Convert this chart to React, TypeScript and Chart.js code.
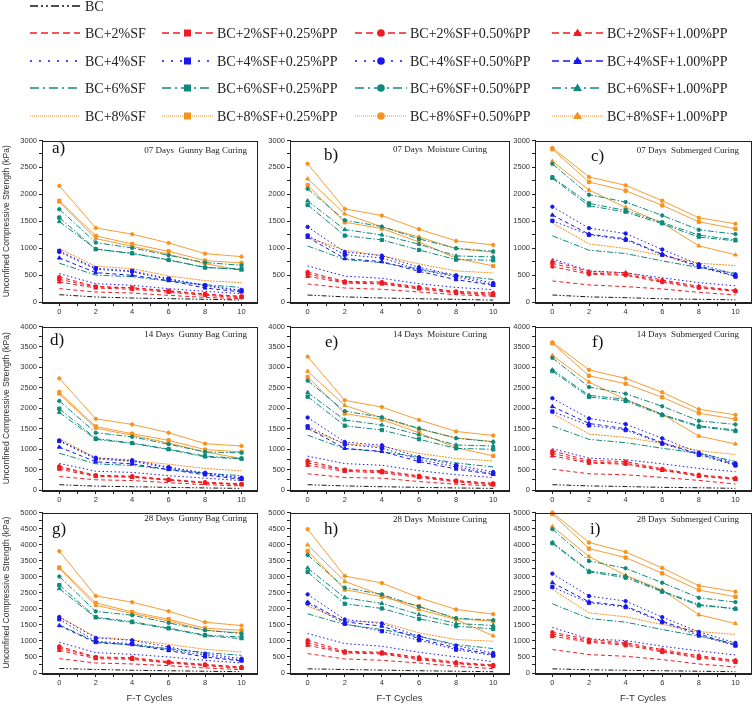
import React, { useEffect, useRef } from 'react';
import { Chart, registerables } from 'chart.js';
Chart.register(...registerables);

// ---------------- data ----------------
const ftCycles = [0, 2, 4, 6, 8, 10];

const seriesNames = [
  'BC',
  'BC+2%SF', 'BC+2%SF+0.25%PP', 'BC+2%SF+0.50%PP', 'BC+2%SF+1.00%PP',
  'BC+4%SF', 'BC+4%SF+0.25%PP', 'BC+4%SF+0.50%PP', 'BC+4%SF+1.00%PP',
  'BC+6%SF', 'BC+6%SF+0.25%PP', 'BC+6%SF+0.50%PP', 'BC+6%SF+1.00%PP',
  'BC+8%SF', 'BC+8%SF+0.25%PP', 'BC+8%SF+0.50%PP', 'BC+8%SF+1.00%PP',
];

// each panel: one row per series (order of seriesNames), values at ftCycles
const panelA = [
  [136, 93, 74, 62, 50, 37],
  [248, 186, 167, 124, 85, 62],
  [422, 279, 260, 205, 143, 99],
  [465, 290, 265, 210, 150, 105],
  [372, 260, 236, 180, 124, 80],
  [527, 341, 310, 248, 198, 155],
  [949, 626, 577, 434, 310, 217],
  [930, 610, 560, 420, 300, 205],
  [818, 546, 496, 397, 260, 186],
  [720, 500, 470, 390, 320, 270],
  [1569, 980, 905, 781, 639, 614],
  [1724, 1104, 1004, 868, 732, 682],
  [1494, 985, 900, 781, 645, 601],
  [990, 663, 620, 483, 397, 360],
  [1880, 1228, 1079, 942, 769, 725],
  [2158, 1376, 1259, 1097, 899, 843],
  [1860, 1178, 1035, 887, 713, 589],
];
const panelB = [
  [130, 95, 75, 60, 50, 35],
  [335, 260, 236, 186, 136, 105],
  [521, 370, 350, 260, 180, 145],
  [558, 384, 372, 279, 198, 167],
  [477, 353, 335, 242, 167, 124],
  [670, 480, 440, 340, 270, 230],
  [1234, 880, 818, 601, 465, 322],
  [1395, 930, 862, 645, 496, 353],
  [1203, 806, 750, 570, 415, 310],
  [1040, 790, 730, 610, 490, 420],
  [1804, 1234, 1153, 967, 787, 775],
  [2102, 1519, 1401, 1172, 998, 942],
  [1879, 1345, 1246, 1073, 856, 837],
  [1200, 961, 862, 707, 577, 540],
  [2170, 1482, 1364, 1116, 812, 670],
  [2567, 1730, 1606, 1352, 1135, 1060],
  [2288, 1637, 1395, 1209, 992, 924],
];
const panelC = [
  [130, 95, 80, 60, 50, 40],
  [391, 317, 286, 242, 180, 130],
  [720, 534, 515, 385, 273, 205],
  [658, 515, 497, 366, 261, 199],
  [764, 565, 546, 410, 292, 217],
  [800, 580, 540, 450, 360, 300],
  [1509, 1248, 1155, 876, 652, 472],
  [1770, 1372, 1273, 975, 702, 515],
  [1615, 1261, 1174, 888, 671, 484],
  [1230, 962, 900, 764, 640, 534],
  [2316, 1832, 1701, 1478, 1242, 1155],
  [2565, 1993, 1857, 1608, 1341, 1261],
  [2298, 1788, 1670, 1453, 1205, 1136],
  [1466, 1080, 994, 863, 720, 677],
  [2838, 2229, 2068, 1795, 1490, 1360],
  [2863, 2323, 2167, 1882, 1565, 1453],
  [2614, 2080, 1757, 1466, 1043, 876],
];
const panelD = [
  [130, 95, 80, 65, 50, 40],
  [330, 250, 230, 180, 130, 100],
  [550, 350, 320, 250, 180, 140],
  [580, 360, 340, 260, 190, 150],
  [510, 330, 310, 240, 170, 130],
  [650, 460, 430, 350, 290, 230],
  [1200, 760, 700, 540, 400, 280],
  [1210, 790, 730, 560, 420, 300],
  [1050, 690, 640, 500, 370, 260],
  [900, 640, 600, 500, 410, 350],
  [1990, 1260, 1150, 1000, 830, 770],
  [2180, 1400, 1300, 1120, 930, 910],
  [1900, 1240, 1140, 990, 810, 760],
  [1250, 786, 713, 632, 527, 470],
  [2390, 1555, 1377, 1215, 988, 932],
  [2730, 1742, 1604, 1401, 1134, 1077],
  [2349, 1515, 1337, 1150, 932, 770],
];
const panelE = [
  [130, 100, 80, 65, 50, 40],
  [397, 306, 290, 207, 141, 99],
  [662, 480, 450, 330, 215, 145],
  [720, 497, 472, 348, 232, 166],
  [604, 455, 422, 306, 199, 124],
  [828, 646, 604, 472, 373, 306],
  [1557, 1118, 1027, 745, 563, 397],
  [1772, 1176, 1093, 803, 613, 439],
  [1515, 1018, 944, 696, 513, 381],
  [1341, 1010, 936, 803, 662, 563],
  [2285, 1573, 1466, 1242, 1018, 994],
  [2675, 1929, 1780, 1507, 1267, 1176],
  [2385, 1714, 1590, 1350, 1101, 1076],
  [1490, 1134, 1060, 894, 770, 712],
  [2766, 1871, 1722, 1400, 1035, 836],
  [3262, 2194, 2029, 1714, 1432, 1333],
  [2906, 2070, 1764, 1490, 1275, 1184],
];
const panelF = [
  [130, 100, 85, 65, 55, 40],
  [510, 397, 373, 308, 235, 146],
  [899, 680, 656, 494, 348, 267],
  [956, 721, 697, 518, 373, 292],
  [834, 656, 632, 480, 340, 260],
  [1010, 780, 740, 640, 530, 450],
  [1920, 1580, 1466, 1134, 859, 600],
  [2244, 1750, 1612, 1264, 915, 656],
  [2041, 1628, 1499, 1158, 883, 624],
  [1563, 1239, 1158, 1021, 899, 700],
  [2908, 2276, 2179, 1831, 1547, 1442],
  [3232, 2519, 2357, 2049, 1693, 1604],
  [2940, 2317, 2219, 1847, 1571, 1466],
  [1871, 1369, 1288, 1142, 964, 867],
  [3588, 2795, 2600, 2268, 1879, 1733],
  [3613, 2940, 2730, 2390, 1976, 1839],
  [3289, 2641, 2211, 1855, 1320, 1126],
];
const panelG = [
  [140, 110, 85, 70, 55, 40],
  [447, 312, 281, 229, 156, 104],
  [780, 480, 455, 330, 250, 165],
  [832, 499, 478, 353, 270, 187],
  [707, 447, 426, 312, 229, 146],
  [957, 634, 582, 499, 395, 312],
  [1674, 988, 915, 738, 551, 400],
  [1747, 1092, 1019, 811, 603, 447],
  [1477, 946, 884, 697, 499, 374],
  [1500, 967, 863, 759, 634, 551],
  [2740, 1740, 1600, 1400, 1180, 1120],
  [3006, 1920, 1800, 1560, 1330, 1230],
  [2630, 1720, 1570, 1380, 1160, 1070],
  [1750, 1123, 1030, 894, 738, 655],
  [3286, 2184, 1903, 1674, 1394, 1331],
  [3796, 2402, 2205, 1924, 1581, 1477],
  [3255, 2111, 1851, 1622, 1331, 1248],
];
const panelH = [
  [130, 110, 90, 70, 55, 40],
  [604, 438, 396, 313, 208, 135],
  [938, 650, 620, 450, 310, 230],
  [1021, 677, 646, 490, 333, 250],
  [865, 625, 594, 417, 292, 208],
  [1230, 917, 834, 646, 500, 354],
  [2167, 1532, 1302, 1021, 729, 542],
  [2449, 1667, 1542, 1146, 854, 625],
  [2209, 1594, 1459, 1073, 781, 573],
  [1844, 1511, 1355, 1146, 886, 761],
  [3147, 2157, 2011, 1688, 1459, 1375],
  [3678, 2657, 2449, 2063, 1709, 1646],
  [3272, 2344, 2167, 1823, 1542, 1480],
  [2084, 1615, 1584, 1250, 1042, 990],
  [3803, 2600, 2376, 2084, 1688, 1615],
  [4480, 3021, 2803, 2344, 1980, 1834],
  [3990, 2855, 2420, 1980, 1667, 1157],
];
const panelI = [
  [130, 100, 85, 70, 55, 40],
  [729, 573, 521, 417, 281, 188],
  [1146, 959, 865, 656, 469, 344],
  [1271, 1042, 948, 729, 542, 396],
  [1219, 990, 907, 688, 500, 375],
  [1417, 1063, 1011, 834, 690, 560],
  [2678, 2188, 2053, 1584, 1167, 854],
  [3095, 2397, 2240, 1740, 1282, 938],
  [2813, 2219, 2084, 1615, 1219, 865],
  [2157, 1698, 1584, 1355, 1146, 917],
  [4043, 3147, 2970, 2532, 2105, 2001],
  [4481, 3491, 3261, 2813, 2344, 2209],
  [4064, 3178, 3022, 2553, 2136, 2001],
  [2605, 1875, 1750, 1511, 1292, 1200],
  [4950, 3876, 3595, 3105, 2584, 2376],
  [5000, 4064, 3772, 3272, 2720, 2532],
  [4564, 3626, 3043, 2584, 1813, 1542],
];

const panelValues = [panelA, panelB, panelC, panelD, panelE, panelF, panelG, panelH, panelI];
const panelLetters = ['a)', 'b)', 'c)', 'd)', 'e)', 'f)', 'g)', 'h)', 'i)'];
const ageLabels = ['07 Days', '14 Days', '28 Days'];
const curingLabels = ['Gunny Bag Curing', 'Moisture Curing', 'Submerged Curing'];
const yMaxByRow = [3000, 4000, 5000];
const xTickLabels = ['0', '2', '4', '6', '8', '10'];
const yAxisTitle = 'Unconfined Compressive Strength (kPa)';
const xAxisTitle = 'F-T Cycles';

// ---------------- styles ----------------
const BLACK = '#151515';
const RED = '#ee1d23';
const BLUE = '#1818ee';
const TEAL = '#0e8a7c';
const ORANGE = '#f6921e';
const groupColors = [RED, BLUE, TEAL, ORANGE];
const markers = [null, 'rect', 'circle', 'triangle'];
const chartDash: Record<string, number[]> = {
  bc: [5, 2, 1.5, 2, 1.5, 2],
  red: [4, 3],
  blue: [1.5, 2.5],
  blueDash: [4, 3],
  teal: [6, 2, 1.5, 2],
  orange: [2, 1],
  orangePP: [],
};
const legendDash: Record<string, string> = {
  bc: '8 3 2 3 2 3',
  red: '7 4',
  blue: '2 7',
  blueDash: '7 4',
  teal: '9 4 2 4',
  orange: '1 1',
  orangePP: '1 1',
};

function seriesStyle(i: number) {
  if (i === 0) return { color: BLACK, dashKey: 'bc', marker: null as string | null };
  const g = Math.floor((i - 1) / 4);
  const k = (i - 1) % 4;
  const color = groupColors[g];
  let dashKey = ['red', 'blue', 'teal', 'orange'][g];
  if (g === 1 && k === 3) dashKey = 'blueDash';
  if (g === 3 && k > 0) dashKey = 'orangePP';
  return { color, dashKey, marker: markers[k] };
}

// ---------------- layout ----------------
const colChartLeft = [42, 290, 535];
const colChartRight = [258, 510, 752];
const rowChartTop = [140, 326, 512];
const rowChartBottom = [302, 490, 673];
const PAD_TOP = 6;
const PAD_RIGHT = 4;
const letterPos = [[52, 153], [324, 160], [591, 161], [50, 345], [325, 347], [592, 347], [52, 534], [324, 534], [590, 534]];
const titleRight = [247, 487, 739];
const titleBaseline = [[153, 152, 153], [337, 337, 337], [521, 522, 522]];

const tickFont = { family: 'Liberation Sans, Arial, sans-serif', size: 7.5 };
const AXIS = '#222';

const boxPlugin = {
  id: 'panelBox',
  afterDraw(chart: any) {
    const { ctx, chartArea: a } = chart;
    ctx.save();
    ctx.strokeStyle = AXIS;
    ctx.lineWidth = 1;
    ctx.strokeRect(Math.round(a.left) + 0.5, Math.round(a.top) + 0.5, Math.round(a.right - a.left), Math.round(a.bottom - a.top));
    ctx.restore();
  },
};

function Panel({ index }: { index: number }) {
  const ref = useRef<HTMLCanvasElement>(null);
  const r = Math.floor(index / 3);
  const c = index % 3;
  const yW = c === 0 ? 42 : 30;
  const xH = r === 2 ? 31 : 14;
  const chartW = colChartRight[c] - colChartLeft[c];
  const chartH = rowChartBottom[r] - rowChartTop[r];
  const w = yW + chartW + PAD_RIGHT;
  const h = PAD_TOP + chartH + xH;
  const left = colChartLeft[c] - yW;
  const top = rowChartTop[r] - PAD_TOP;

  useEffect(() => {
    const values = panelValues[index];
    const yMax = yMaxByRow[r];
    const datasets = seriesNames.map((name, i) => {
      const st = seriesStyle(i);
      return {
        label: name,
        data: ftCycles.map((x, j) => ({ x, y: values[i][j] })),
        borderColor: st.color,
        backgroundColor: st.color,
        borderWidth: st.dashKey === 'orangePP' ? 0.9 : 1,
        borderDash: chartDash[st.dashKey],
        pointStyle: st.marker || 'circle',
        pointRadius: st.marker ? (st.marker === 'circle' ? 1.7 : st.marker === 'rect' ? 2.3 : 2.2) : 0,
        pointBorderWidth: 1,
        pointBackgroundColor: st.color,
        pointBorderColor: st.color,
        tension: 0,
        fill: false,
        clip: false as any,
      };
    });
    const chart = new Chart(ref.current as HTMLCanvasElement, {
      type: 'line',
      data: { datasets },
      options: {
        responsive: false,
        animation: false,
        events: [],
        layout: { padding: { top: PAD_TOP, right: PAD_RIGHT, left: 0, bottom: 0 } },
        plugins: { legend: { display: false }, tooltip: { enabled: false }, title: { display: false } },
        scales: {
          x: {
            type: 'linear',
            min: -0.95,
            max: 10.85,
            afterFit: (s: any) => { s.height = xH; },
            afterBuildTicks: (s: any) => {
              const t = [];
              for (let v = 0; v <= 10; v++) t.push({ value: v });
              s.ticks = t;
            },
            ticks: {
              autoSkip: false,
              maxRotation: 0,
              padding: 1,
              color: '#333',
              font: tickFont,
              callback: (v: any) => (v % 2 === 0 ? xTickLabels[v / 2] : ''),
            },
            grid: { drawOnChartArea: false, tickLength: 4, color: AXIS },
            border: { color: AXIS, width: 1 },
            title: r === 2
              ? { display: true, text: xAxisTitle, color: '#333', font: { family: 'Liberation Sans, Arial, sans-serif', size: 9.5 }, padding: { top: 0, bottom: 0 } }
              : { display: false },
          },
          y: {
            type: 'linear',
            min: 0,
            max: yMax,
            afterFit: (s: any) => { s.width = yW; },
            afterBuildTicks: (s: any) => {
              const t = [];
              for (let v = 0; v <= yMax; v += 250) t.push({ value: v });
              s.ticks = t;
            },
            ticks: {
              autoSkip: false,
              padding: 2,
              color: '#333',
              font: tickFont,
              callback: (v: any) => (v % 500 === 0 ? String(v) : ''),
            },
            grid: { drawOnChartArea: false, tickLength: 3, color: AXIS },
            border: { color: AXIS, width: 1 },
            title: c === 0
              ? { display: true, text: yAxisTitle, color: '#333', font: { family: 'Liberation Sans, Arial, sans-serif', size: 8.5 }, padding: { top: 2, bottom: 0 } }
              : { display: false },
          },
        },
      } as any,
      plugins: [boxPlugin],
    });
    return () => chart.destroy();
  }, [index]);

  return <canvas ref={ref} width={w} height={h} style={{ position: 'absolute', left, top, width: w, height: h }} />;
}

const legendRowY = [6, 33, 61, 88, 116];
const legendSampleX = [[30, 80], [162, 213], [355, 407], [552, 603]];
const legendTextX = [85, 217, 410, 607];
const serif = 'Liberation Serif, Times New Roman, serif';

function LegendMarker({ marker, x, y, color }: { marker: string | null; x: number; y: number; color: string }) {
  if (marker === 'rect') return <rect x={x - 3.5} y={y - 3.5} width={7} height={7} fill={color} />;
  if (marker === 'circle') return <circle cx={x} cy={y} r={3.8} fill={color} />;
  if (marker === 'triangle') return <polygon points={`${x},${y - 4.5} ${x + 4.5},${y + 3} ${x - 4.5},${y + 3}`} fill={color} />;
  return null;
}

function Overlay() {
  const items = seriesNames.map((name, i) => {
    const row = i === 0 ? 0 : Math.floor((i - 1) / 4) + 1;
    const col = i === 0 ? 0 : (i - 1) % 4;
    const st = seriesStyle(i);
    const y = legendRowY[row];
    const [x1, x2] = legendSampleX[col];
    const isOrange = st.dashKey === 'orange' || st.dashKey === 'orangePP';
    return (
      <g key={name}>
        <line x1={x1} y1={y} x2={x2} y2={y} stroke={st.color} strokeWidth={isOrange ? 1.2 : 1.6} strokeDasharray={legendDash[st.dashKey]} />
        <LegendMarker marker={st.marker} x={(x1 + x2) / 2} y={y} color={st.color} />
        <text x={legendTextX[col]} y={y + 5} fontFamily={serif} fontSize={14} fill="#222">{name}</text>
      </g>
    );
  });
  const panelTexts = panelLetters.map((letter, p) => {
    const r = Math.floor(p / 3);
    const c = p % 3;
    return (
      <g key={letter}>
        <text x={letterPos[p][0]} y={letterPos[p][1]} fontFamily={serif} fontSize={17} fill="#111">{letter}</text>
        <text x={titleRight[c]} y={titleBaseline[r][c]} fontFamily={serif} fontSize={9} fill="#222" textAnchor="end" style={{ whiteSpace: 'pre' }}>
          {ageLabels[r] + '  ' + curingLabels[c]}
        </text>
      </g>
    );
  });
  return (
    <svg width={756} height={704} style={{ position: 'absolute', left: 0, top: 0, pointerEvents: 'none' }}>
      {items}
      {panelTexts}
    </svg>
  );
}

export default function App() {
  return (
    <div style={{ position: 'absolute', left: 0, top: 0, width: 756, height: 704, background: '#fff', overflow: 'hidden' }}>
      {panelValues.map((_, i) => <Panel key={i} index={i} />)}
      <Overlay />
    </div>
  );
}
